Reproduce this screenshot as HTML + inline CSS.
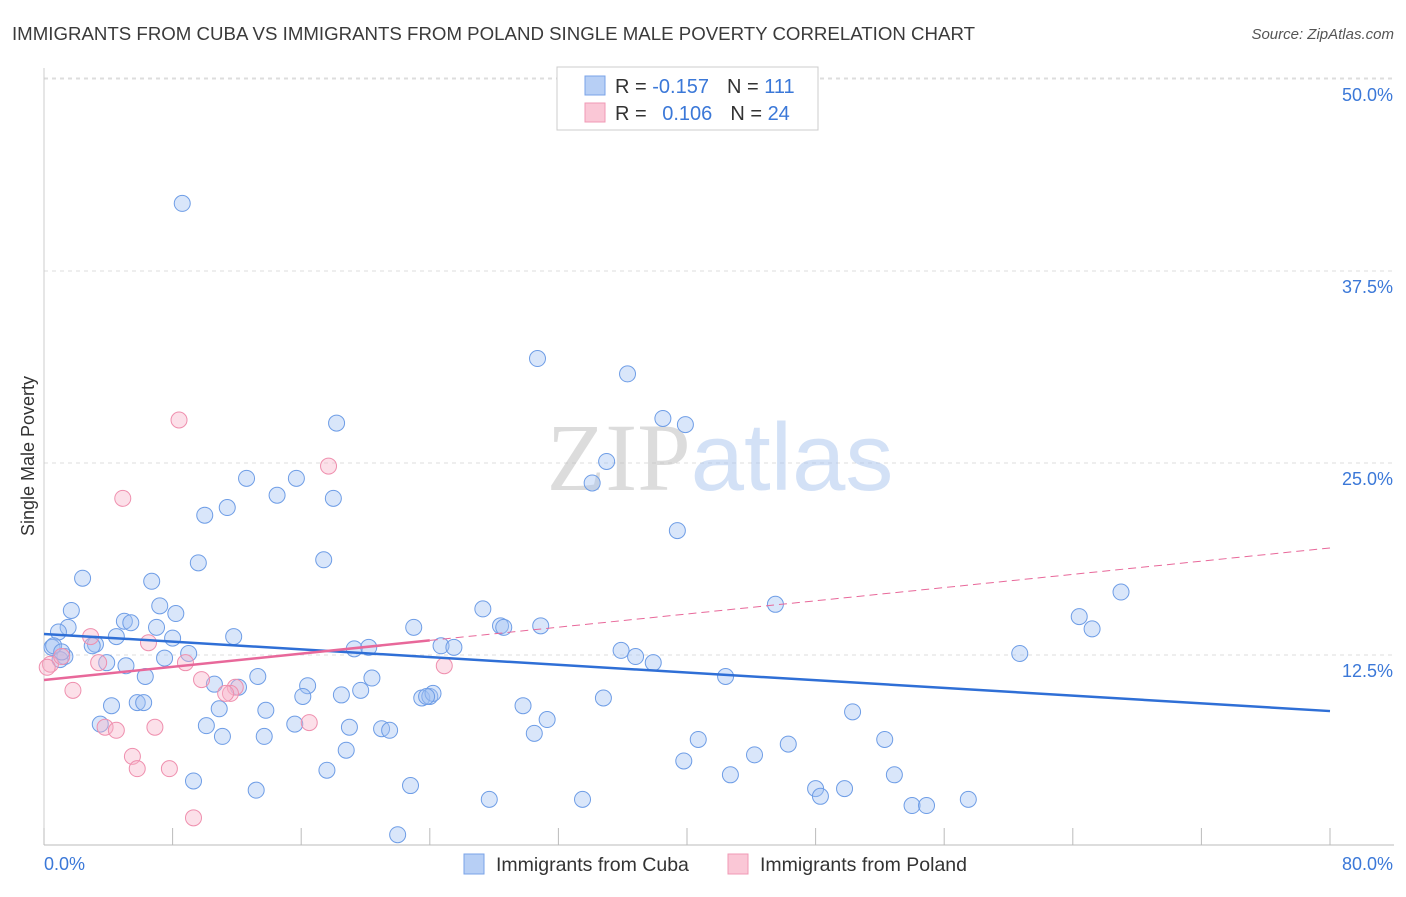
<!DOCTYPE html>
<html><head><meta charset="utf-8">
<style>
body{margin:0;background:#fff;font-family:"Liberation Sans",sans-serif;}
svg text{font-family:"Liberation Sans",sans-serif;}
</style></head>
<body>
<svg id="chart" width="1406" height="892" viewBox="0 0 1406 892" xmlns="http://www.w3.org/2000/svg">
<text x="12" y="40" font-size="18" fill="#3a3a3a" textLength="963" lengthAdjust="spacingAndGlyphs">IMMIGRANTS FROM CUBA VS IMMIGRANTS FROM POLAND SINGLE MALE POVERTY CORRELATION CHART</text>
<text x="1394" y="39" font-size="15" fill="#555" text-anchor="end" font-style="italic">Source: ZipAtlas.com</text>
<g id="grid"></g>
<g id="axes"></g>
<text x="720" y="490" font-size="96" text-anchor="middle" fill="#ccc" opacity="0.5"><tspan font-family="Liberation Serif" fill="#bbb">ZIP</tspan><tspan fill="#a8c4ee">atlas</tspan></text>
<g id="pts"></g>
<g id="trends"></g>
<text transform="translate(34,456) rotate(-90)" font-size="18" fill="#333" text-anchor="middle">Single Male Poverty</text>
<g>
<rect x="557" y="67" width="261" height="63" fill="#fff" stroke="#ccc"/>
<rect x="585" y="76" width="20" height="19" fill="#b7cff5" stroke="#7aa3e8"/>
<rect x="585" y="103" width="20" height="19" fill="#fac7d6" stroke="#f09ab5"/>
<text x="615" y="93" font-size="20" fill="#333">R = <tspan fill="#3b78d8">-0.157</tspan><tspan dx="18">N = </tspan><tspan fill="#3b78d8">111</tspan></text>
<text x="615" y="120" font-size="20" fill="#333">R = <tspan fill="#3b78d8" dx="10">0.106</tspan><tspan dx="18">N = </tspan><tspan fill="#3b78d8">24</tspan></text>
</g>
<g>
<rect x="464" y="854" width="20" height="20" fill="#b7cff5" stroke="#7aa3e8"/>
<text x="496" y="871" font-size="19.5" fill="#333">Immigrants from Cuba</text>
<rect x="728" y="854" width="20" height="20" fill="#fac7d6" stroke="#f09ab5"/>
<text x="760" y="871" font-size="19.5" fill="#333">Immigrants from Poland</text>
</g>
</svg>
<script>
const yTicks=[12.5,25,37.5,50];
const yTickLabels=["12.5%","25.0%","37.5%","50.0%"];
const xTicks=[0,8,16,24,32,40,48,56,64,72,80];
const xEndLabels=["0.0%","80.0%"];
const cubaX=[8.6,30.7,36.3,18.2,38.5,39.9,35.0,34.1,12.6,15.7,14.5,18.0,11.4,10.0,39.4,17.4,9.6,2.4,6.7,67.0,1.7,7.2,8.2,27.3,45.5,64.4,5.0,5.4,1.5,7.0,0.9,28.4,28.6,30.9,23.0,65.2,4.5,11.8,8.0,3.2,3.0,0.5,24.7,25.5,19.3,20.2,35.9,36.8,60.7,9.0,1.3,1.0,3.9,5.1,7.5,37.9,6.3,13.3,20.4,42.4,10.6,12.1,16.4,19.7,18.5,16.1,23.5,24.0,24.2,23.8,34.8,4.2,5.8,6.2,10.9,13.8,29.8,50.3,3.5,10.1,15.6,19.0,21.0,21.5,31.3,11.1,13.7,30.5,40.7,52.3,18.8,46.3,44.2,39.8,17.6,42.7,52.9,9.3,22.8,48.0,49.8,13.2,48.3,27.7,33.5,57.5,54.0,54.9,22.0,0.6,1.1];
const cubaY=[41.9,31.8,30.8,27.6,27.9,27.5,25.1,23.7,24.0,24.0,22.9,22.7,22.1,21.6,20.6,18.7,18.5,17.5,17.3,16.6,15.4,15.7,15.2,15.5,15.8,15.0,14.7,14.6,14.3,14.3,14.0,14.4,14.3,14.4,14.3,14.2,13.7,13.7,13.6,13.2,13.1,13.0,13.1,13.0,12.9,13.0,12.8,12.4,12.6,12.6,12.4,12.2,12.0,11.8,12.3,12.0,11.1,11.1,11.0,11.1,10.6,10.4,10.5,10.2,9.9,9.8,9.7,9.8,10.0,9.8,9.7,9.2,9.4,9.4,9.0,8.9,9.2,8.8,8.0,7.9,8.0,7.8,7.7,7.6,8.3,7.2,7.2,7.4,7.0,7.0,6.3,6.7,6.0,5.6,5.0,4.7,4.7,4.3,4.0,3.8,3.8,3.7,3.3,3.1,3.1,3.1,2.7,2.7,0.8,13.1,12.7];
const polandX=[8.4,17.7,4.9,2.9,6.5,3.4,8.8,0.4,1.1,24.9,9.8,11.9,11.6,1.8,11.3,3.8,6.9,4.5,16.5,5.5,5.8,7.8,9.3,0.2];
const polandY=[27.8,24.8,22.7,13.7,13.3,12.0,12.0,11.9,12.4,11.8,10.9,10.4,10.0,10.2,10.0,7.8,7.8,7.6,8.1,5.9,5.1,5.1,1.9,11.7];
const cubaTrend=[13.87,8.85];
const polandTrend=[10.87,19.47];
const polandSolidEnd=24;
const X=v=>44+v/80*1286, Y=v=>847-v*15.36;
const NS="http://www.w3.org/2000/svg";
function mk(parent,tag,attrs){const e=document.createElementNS(NS,tag);for(const k in attrs)e.setAttribute(k,attrs[k]);document.getElementById(parent).appendChild(e);return e;}
yTicks.forEach((t,i)=>{
  const l=mk('grid','line',{x1:44,x2:1394,y1:Y(t),y2:Y(t),stroke:'#ddd','stroke-dasharray':'4,4'});
  
  
  const tx=mk('axes','text',{x:1393,y:Y(t)+22,'font-size':18,fill:'#3b78d8','text-anchor':'end'});
  tx.textContent=yTickLabels[i];
  
  
});
const topGrid=mk('grid','line',{x1:44,x2:1394,y1:Y(50)-1,y2:Y(50)-1,stroke:'#ddd','stroke-dasharray':'4,4'});


const ax=mk('axes','line',{x1:44,x2:1394,y1:845,y2:845,stroke:'#bbb'});


const ay=mk('axes','line',{x1:44,x2:44,y1:68,y2:845,stroke:'#ccc'});


xTicks.forEach(t=>{
  const l=mk('axes','line',{x1:X(t),x2:X(t),y1:828,y2:845,stroke:'#bbb'});
  
  
});
const xl0=mk('axes','text',{x:44,y:870,'font-size':18,fill:'#3b78d8'});xl0.textContent=xEndLabels[0];


const xl1=mk('axes','text',{x:1393,y:870,'font-size':18,fill:'#3b78d8','text-anchor':'end'});xl1.textContent=xEndLabels[1];


cubaX.forEach((x,i)=>{
  const c=mk('pts','circle',{cx:X(x),cy:Y(cubaY[i]),r:8,fill:'rgba(160,192,242,0.4)',stroke:'#6e9de6','stroke-width':1});
  
  
});
polandX.forEach((x,i)=>{
  const c=mk('pts','circle',{cx:X(x),cy:Y(polandY[i]),r:8,fill:'rgba(248,178,200,0.4)',stroke:'#ef8fae','stroke-width':1});
  
  
});
const bt=mk('trends','line',{x1:X(0),y1:Y(cubaTrend[0]),x2:X(80),y2:Y(cubaTrend[1]),stroke:'#2f6fd6','stroke-width':2.5});


const pv=x=>polandTrend[0]+(polandTrend[1]-polandTrend[0])*x/80;
const ps=mk('trends','line',{x1:X(0),y1:Y(pv(0)),x2:X(polandSolidEnd),y2:Y(pv(polandSolidEnd)),stroke:'#e8689a','stroke-width':2.5});


const pd=mk('trends','line',{x1:X(polandSolidEnd),y1:Y(pv(polandSolidEnd)),x2:X(80),y2:Y(pv(80)),stroke:'#e8689a','stroke-width':1,'stroke-dasharray':'8,5'});


</script>
</body></html>
